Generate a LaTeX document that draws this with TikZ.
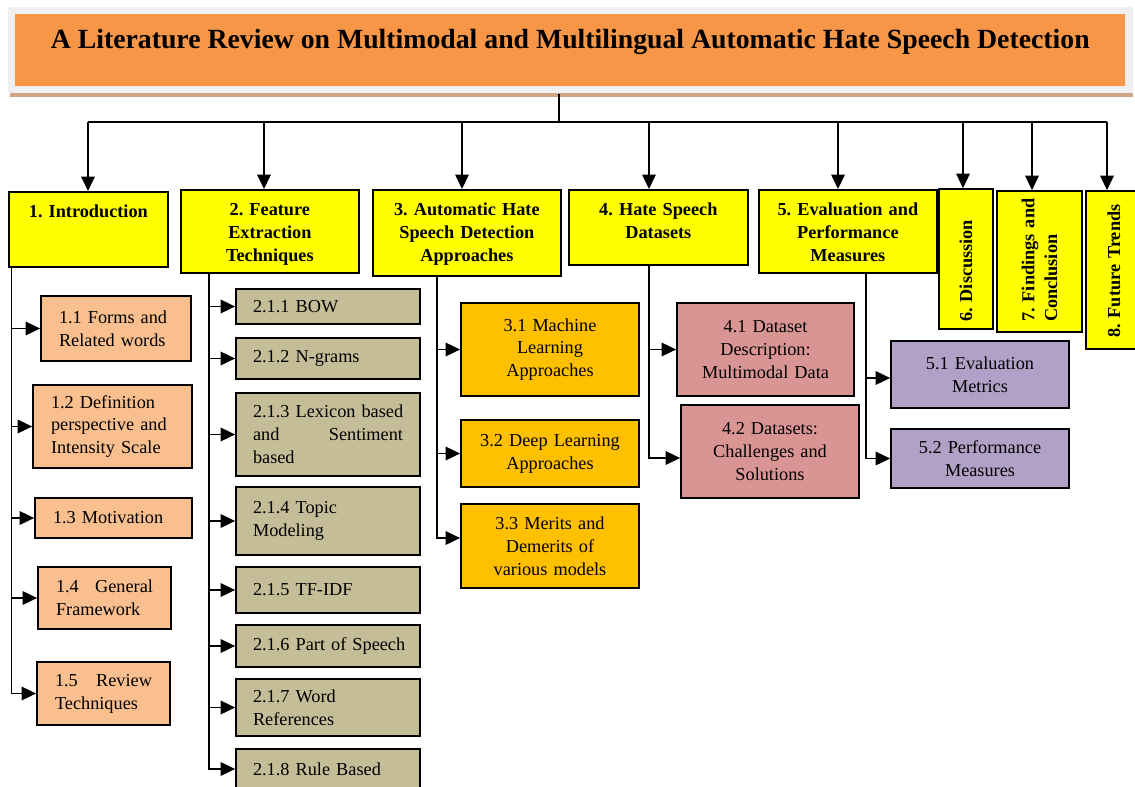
\documentclass[tikz,border=0pt]{standalone}
\usepackage{fontspec}
\setmainfont{Liberation Serif}
\usepackage{tikz}
\usetikzlibrary{arrows.meta}
\frenchspacing

\definecolor{titleorange}{HTML}{F79646}
\definecolor{titleframe}{HTML}{EFEFEF}
\definecolor{titleshadow}{HTML}{CFA586}
\definecolor{headyellow}{HTML}{FFFF00}
\definecolor{introfill}{HTML}{FABF8F}
\definecolor{featfill}{HTML}{C4BD97}
\definecolor{detectfill}{HTML}{FFC000}
\definecolor{datafill}{HTML}{D99594}
\definecolor{evalfill}{HTML}{B2A1C7}

\newcommand{\boxfont}{\fontsize{10.4}{13}\selectfont}
\newcommand{\wordfill}{\hskip 0pt plus 1filll\relax}

\tikzstyle{titlebox} = [rectangle, fill=titleorange, inner sep=0pt, anchor=north west, font=\bfseries\fontsize{15.8}{19}\selectfont]
\tikzstyle{heading} = [rectangle, draw=black, line width=1pt, fill=headyellow, inner sep=0pt, anchor=north west, text height=0.52cm, align=center, font=\bfseries\boxfont]
\tikzstyle{sideheading} = [rectangle, draw=black, line width=1pt, fill=headyellow, inner sep=0pt, rotate=90, align=left, font=\bfseries\boxfont]
\tikzstyle{introsub} = [rectangle, draw=black, line width=1pt, fill=introfill, inner sep=0pt, align=left, font=\boxfont]
\tikzstyle{featsub} = [rectangle, draw=black, line width=1pt, fill=featfill, inner sep=0pt, minimum width=3.68cm, text width=3.0cm, align=left, font=\boxfont]
\tikzstyle{detectsub} = [rectangle, draw=black, line width=1pt, fill=detectfill, inner sep=0pt, minimum width=3.56cm, text width=3.3cm, align=center, font=\boxfont]
\tikzstyle{datasub} = [rectangle, draw=black, line width=1pt, fill=datafill, inner sep=0pt, minimum height=1.86cm, text width=3.3cm, align=center, font=\boxfont]
\tikzstyle{evalsub} = [rectangle, draw=black, line width=1pt, fill=evalfill, inner sep=0pt, minimum width=3.56cm, text width=3.3cm, align=center, font=\boxfont]
\tikzstyle{arrow} = [line width=1pt, -{Triangle[length=0.29cm, width=0.27cm]}]
\tikzstyle{trunk} = [line width=1pt]

\begin{document}
\begin{tikzpicture}[x=0.02cm, y=-0.02cm]
\useasboundingbox (0,0) rectangle (1135,787);

% Title
\fill [titleshadow] (10,93) rectangle (1133,97);
\fill [titleframe] (8,7) rectangle (1133,93);
\node (title) [titlebox, minimum width=22.2cm, text height=0.68cm, text depth=0.76cm] at (15,14) {A Literature Review on Multimodal and Multilingual Automatic Hate Speech Detection};

% Nodes
\node (intro) [heading, minimum width=3.18cm, text width=2.94cm, text depth=0.98cm] at (8,191) {1. Introduction};
\node (feat) [heading, minimum width=3.56cm, text width=3.3cm, text depth=1.14cm] at (180,189) {2. Feature\\Extraction\\Techniques};
\node (detect) [heading, minimum width=3.76cm, text width=3.5cm, text depth=1.2cm] at (372,189) {3. Automatic Hate\\Speech Detection\\Approaches};
\node (dataset) [heading, minimum width=3.58cm, text width=3.3cm, text depth=0.98cm] at (568,189) {4. Hate Speech\\Datasets};
\node (evaluate) [heading, minimum width=3.56cm, text width=3.3cm, text depth=1.14cm] at (758,189) {5. Evaluation and\\Performance\\Measures};
\node (disc) [sideheading, minimum width=2.8cm, minimum height=1.08cm, text width=2.52cm] at (966,259) {6. Discussion};
\node (find) [sideheading, minimum width=2.82cm, minimum height=1.7cm, text width=2.42cm] at (1039.5,261.5) {\mbox{7. Findings and}\\Conclusion};
\node (trend) [sideheading, minimum width=3.16cm, minimum height=1.12cm, text width=2.72cm] at (1114,270) {8. Future Trends};

\node (s11) [introsub, minimum width=3cm, minimum height=1.3cm, text width=2.28cm] at (116,328.5) {1.1 Forms and\\Related words};
\node (s12) [introsub, minimum width=3.18cm, minimum height=1.66cm, text width=2.46cm] at (112.5,426.5) {1.2 Definition\\perspective and\\Intensity Scale};
\node (s13) [introsub, minimum width=3.14cm, minimum height=0.8cm, text width=2.42cm] at (113.5,518) {1.3 Motivation};
\node (s14) [introsub, minimum width=2.66cm, minimum height=1.24cm, text width=1.94cm] at (104.5,598) {1.4\wordfill General\\Framework};
\node (s15) [introsub, minimum width=2.66cm, minimum height=1.26cm, text width=1.94cm] at (103.5,693.5) {1.5\wordfill Review\\Techniques};

\node (f1) [featsub, minimum height=0.7cm] at (328,306.5) {2.1.1 BOW};
\node (f2) [featsub, minimum height=0.82cm] at (328,358.5) {2.1.2 N-grams};
\node (f3) [featsub, minimum height=1.66cm] at (328,434.5) {\mbox{2.1.3 Lexicon based}\\and\wordfill Sentiment\\based};
\node (f4) [featsub, minimum height=1.36cm] at (328,521) {2.1.4 Topic\\Modeling};
\node (f5) [featsub, minimum height=0.92cm] at (328,590) {2.1.5 TF-IDF};
\node (f6) [featsub, minimum height=0.84cm] at (328,646) {\mbox{2.1.6 Part of Speech}};
\node (f7) [featsub, minimum height=1.14cm] at (328,707.5) {2.1.7 Word\\References};
\node (f8) [featsub, minimum height=0.8cm] at (328,769) {2.1.8 Rule Based};

\node (a1) [detectsub, minimum height=1.86cm] at (550,349.5) {3.1 Machine\\Learning\\Approaches};
\node (a2) [detectsub, minimum height=1.34cm] at (550,453.5) {3.2 Deep Learning\\Approaches};
\node (a3) [detectsub, minimum height=1.68cm] at (550,546) {3.3 Merits and\\Demerits of\\various models};

\node (d1) [datasub, minimum width=3.54cm] at (765.5,349.5) {4.1 Dataset\\Description:\\Multimodal Data};
\node (d2) [datasub, minimum width=3.56cm] at (770,451.5) {4.2 Datasets:\\Challenges and\\Solutions};

\node (e1) [evalsub, minimum height=1.34cm] at (980,374.5) {5.1 Evaluation\\Metrics};
\node (e2) [evalsub, minimum height=1.18cm] at (980,458.5) {5.2 Performance\\Measures};

% Arrows
\coordinate (stem) at (559,122);
\coordinate (b1) at (88,122);
\coordinate (b2) at (264,122);
\coordinate (b3) at (462,122);
\coordinate (b4) at (649,122);
\coordinate (b5) at (838,122);
\coordinate (b6) at (963,122);
\coordinate (b7) at (1032,122);
\coordinate (b8) at (1107,122);
\draw [trunk] ([yshift=-0.14cm]stem |- title.south) -- (stem);
\draw [trunk] (b1) -- (b8);
\draw [arrow] (b1) -- (b1 |- intro.north);
\draw [arrow] (b2) -- (b2 |- feat.north);
\draw [arrow] (b3) -- (b3 |- detect.north);
\draw [arrow] (b4) -- (b4 |- dataset.north);
\draw [arrow] (b5) -- (b5 |- evaluate.north);
\draw [arrow] (b6) -- (b6 |- disc.east);
\draw [arrow] (b7) -- (b7 |- find.east);
\draw [arrow] (b8) -- (b8 |- trend.east);

\coordinate (t1) at ([xshift=0.07cm]intro.south west);
\draw [arrow] (t1) |- (s11.west);
\draw [arrow] (t1) |- (s12.west);
\draw [arrow] (t1) |- (s13.west);
\draw [arrow] (t1) |- (s14.west);
\draw [arrow] (t1) |- (s15.west);

\coordinate (t2) at ([xshift=0.58cm]feat.south west);
\draw [arrow] (t2) |- (f1.west);
\draw [arrow] (t2) |- (f2.west);
\draw [arrow] (t2) |- (f3.west);
\draw [arrow] (t2) |- (f4.west);
\draw [arrow] (t2) |- (f5.west);
\draw [arrow] (t2) |- (f6.west);
\draw [arrow] (t2) |- (f7.west);
\draw [arrow] (t2) |- (f8.west);

\coordinate (t3) at ([xshift=1.3cm]detect.south west);
\draw [arrow] (t3) |- (a1.west);
\draw [arrow] (t3) |- (a2.west);
\draw [arrow] (t3) |- ([yshift=0.16cm]a3.west);

\coordinate (t4) at ([xshift=1.62cm]dataset.south west);
\draw [arrow] (t4) |- (d1.west);
\draw [arrow] (t4) |- ([yshift=-0.13cm]d2.west);

\coordinate (t5) at ([xshift=2.16cm]evaluate.south west);
\draw [arrow] (t5) |- ([yshift=-0.07cm]e1.west);
\draw [arrow] (t5) |- (e2.west);

\end{tikzpicture}
\end{document}
